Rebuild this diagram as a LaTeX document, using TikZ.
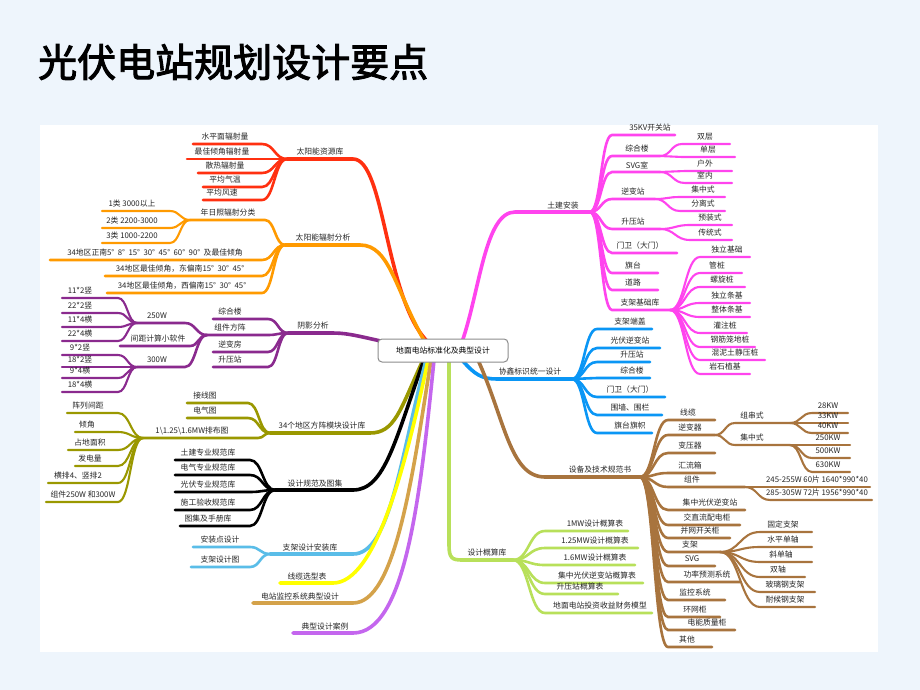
\documentclass[tikz,border=0pt]{standalone}
\usepackage{fontspec}
\setmainfont{Noto Sans CJK SC}
\newfontfamily\titlefont[FakeBold=2.5]{Noto Sans CJK SC}
\usetikzlibrary{calc}
\definecolor{cR}{HTML}{FF3010}
\definecolor{cO}{HTML}{FF9A00}
\definecolor{cP}{HTML}{8A2A8E}
\definecolor{cG}{HTML}{9A9800}
\definecolor{cL}{HTML}{5ABDE8}
\definecolor{cY}{HTML}{FFFF00}
\definecolor{cT}{HTML}{D4A24A}
\definecolor{cV}{HTML}{C466EE}
\definecolor{cM}{HTML}{FF44EE}
\definecolor{cB}{HTML}{0A96F5}
\definecolor{cW}{HTML}{A8743E}
\definecolor{cN}{HTML}{B8E05A}
\definecolor{bg}{HTML}{EEF5FC}
\newcommand\mmi[8]{%
 \coordinate (#1) at (#5,#6);
 \coordinate (#1n) at (#4,#6);
 \draw[#3] let \p1=(#2),\p2=(#1n) in (\p1) .. controls ({0.5*\x1+0.5*\x2},\y1) and ({0.5*\x1+0.5*\x2},\y2) .. (\p2) -- (#1);
 \node[lab] (#1t) at (#7,#6-7) {#8};}
\begin{document}
\begin{tikzpicture}[x=1pt,y=-1pt,line cap=round,
 lab/.style={font=\fontsize{7.8}{8}\selectfont,inner sep=0pt,text=black!85},
 w1/.style={line width=3.6pt}, w2/.style={line width=2.6pt}, w3/.style={line width=2.1pt},
 R/.style={draw=cR,w2},O/.style={draw=cO,w2},P/.style={draw=cP,w2},G/.style={draw=cG,w2},
 K/.style={draw=black,w2},L/.style={draw=cL,w2},M/.style={draw=cM,w2},B/.style={draw=cB,w2},
 W/.style={draw=cW,w2},N/.style={draw=cN,w2}]
\useasboundingbox (0,0) rectangle (920,690);
\fill[bg] (0,0) rectangle (920,690);
\fill[white] (40,125) rectangle (878,652);
\node[anchor=west,font=\titlefont\fontsize{39}{40}\selectfont,inner sep=0pt] (title) at (38,62) {光伏电站规划设计要点};
% ---- main branches ----
\coordinate (red) at (287,159);
\draw[draw=cR,w1] (428,342) .. controls (385,300) and (385,159) .. (353,159) -- (red);
\node[lab] (redt) at (320,152) {太阳能资源库};
\coordinate (orange) at (285,245);
\draw[draw=cO,w1] (425,342) .. controls (395,290) and (390,245) .. (360,245) -- (orange);
\node[lab] (oranget) at (323,238) {太阳能辐射分析};
\coordinate (purple) at (288,333);
\draw[draw=cP,w1] (385,342) .. controls (350,334) and (345,333) .. (330,333) -- (purple);
\node[lab] (purplet) at (313,326) {阴影分析};
\coordinate (olive) at (270,433);
\draw[draw=cG,w1] (423,360) .. controls (400,410) and (395,433) .. (370,433) -- (olive);
\node[lab] (olivet) at (322,426) {34个地区方阵模块设计库};
\coordinate (black) at (275,490);
\draw[draw=black,w1] (424,360) .. controls (395,440) and (385,490) .. (353,490) -- (black);
\node[lab] (blackt) at (315,484) {设计规范及图集};
\coordinate (lblue) at (270,554);
\draw[draw=cL,w1] (426,360) .. controls (400,460) and (390,554) .. (353,554) -- (lblue);
\node[lab] (lbluet) at (310,548) {支架设计安装库};
\coordinate (yel) at (280,583);
\draw[draw=cY,w1] (428,360) .. controls (405,470) and (375,583) .. (333,583) -- (yel);
\node[lab] (yelt) at (307,577) {线缆选型表};
\coordinate (tan) at (253,603);
\draw[draw=cT,w1] (431,360) .. controls (412,480) and (395,603) .. (353,603) -- (tan);
\node[lab] (tant) at (300,597) {电站监控系统典型设计};
\coordinate (vio) at (293,633);
\draw[draw=cV,w1] (434,360) .. controls (420,500) and (405,633) .. (353,633) -- (vio);
\node[lab] (viot) at (325,627) {典型设计案例};
\coordinate (mag) at (590,212);
\draw[draw=cM,w1] (462,342) .. controls (480,290) and (485,212) .. (515,212) -- (mag);
\node[lab] (magt) at (563,206) {土建安装};
\coordinate (xblue) at (572,379);
\draw[draw=cB,w1] (462,360) .. controls (475,375) and (482,379) .. (497,379) -- (xblue);
\node[lab] (xbluet) at (530,372) {协鑫标识统一设计};
\coordinate (brown) at (640,477);
\draw[draw=cW,w1] (478,360) .. controls (505,420) and (510,477) .. (545,477) -- (brown);
\node[lab] (brownt) at (600,470) {设备及技术规范书};
\coordinate (green) at (513,560);
\draw[draw=cN,w1] (449,360) -- (449,545) .. controls (449,558) and (452,560) .. (462,560) -- (green);
\node[lab] (greent) at (487,553) {设计概算库};
% ---- red ----
\mmi{r1}{red}{R}{262}{193}{144}{225}{水平面辐射量}
\mmi{r2}{red}{R}{262}{187}{159}{222}{最佳倾角辐射量}
\mmi{r3}{red}{R}{262}{198}{173}{225}{散热辐射量}
\mmi{r4}{red}{R}{262}{203}{187}{225}{平均气温}
\mmi{r5}{red}{R}{262}{203}{200}{222}{平均风速}
% ---- orange ----
\mmi{o1}{orange}{O}{265}{190}{220}{228}{年日照辐射分类}
\mmi{o11}{o1}{O,w3}{170}{102}{211}{132}{1类 3000以上}
\mmi{o12}{o1}{O,w3}{170}{102}{228}{132}{2类 2200-3000}
\mmi{o13}{o1}{O,w3}{170}{102}{243}{132}{3类 1000-2200}
\mmi{o2}{orange}{O}{262}{50}{260}{155}{34地区正南5°\ \ 8°\ \ 15°\ \ 30°\ \ 45°\ \ 60°\ \ 90°\ \ 及最佳倾角}
\mmi{o3}{orange}{O}{262}{105}{276}{180}{34地区最佳倾角，东偏南15°\ \ 30°\ \ 45°}
\mmi{o4}{orange}{O}{262}{107}{293}{182}{34地区最佳倾角，西偏南15°\ \ 30°\ \ 45°}
% ---- purple ----
\mmi{p1}{purple}{P}{268}{213}{319}{230}{综合楼}
\mmi{p2}{purple}{P}{268}{207}{335}{230}{组件方阵}
\mmi{p3}{purple}{P}{268}{213}{352}{230}{逆变房}
\mmi{p4}{purple}{P}{268}{213}{367}{230}{升压站}
\mmi{p21}{p2}{P}{185}{137}{323}{157}{250W}
\mmi{p22}{p2}{P}{190}{120}{346}{158}{间距计算小软件}
\mmi{p23}{p2}{P}{185}{137}{367}{157}{300W}
\mmi{p211}{p21}{P,w3}{118}{62}{298}{80}{11*2竖}
\mmi{p212}{p21}{P,w3}{118}{62}{313}{80}{22*2竖}
\mmi{p213}{p21}{P,w3}{118}{62}{327}{80}{11*4横}
\mmi{p214}{p21}{P,w3}{118}{62}{341}{80}{22*4横}
\mmi{p231}{p23}{P,w3}{118}{62}{355}{80}{9*2竖}
\mmi{p232}{p23}{P,w3}{118}{62}{367}{80}{18*2竖}
\mmi{p233}{p23}{P,w3}{118}{62}{378}{80}{9*4横}
\mmi{p234}{p23}{P,w3}{118}{62}{392}{80}{18*4横}
% ---- olive ----
\mmi{g1}{olive}{G}{248}{187}{403}{205}{接线图}
\mmi{g2}{olive}{G}{248}{187}{418}{205}{电气图}
\mmi{g3}{olive}{G}{258}{143}{438}{192}{1\textbackslash 1.25\textbackslash 1.6MW排布图}
\mmi{g31}{g3}{G,w3}{118}{67}{413}{88}{阵列间距}
\mmi{g32}{g3}{G,w3}{118}{75}{432}{87}{倾角}
\mmi{g33}{g3}{G,w3}{118}{68}{450}{90}{占地面积}
\mmi{g34}{g3}{G,w3}{118}{75}{466}{90}{发电量}
\mmi{g35}{g3}{G,w3}{118}{48}{483}{78}{横排4、竖排2}
\mmi{g36}{g3}{G,w3}{118}{46}{502}{83}{组件250W 和300W}
% ---- black ----
\mmi{k1}{black}{K}{250}{175}{460}{208}{土建专业规范库}
\mmi{k2}{black}{K}{250}{175}{475}{208}{电气专业规范库}
\mmi{k3}{black}{K}{250}{175}{492}{208}{光伏专业规范库}
\mmi{k4}{black}{K}{250}{175}{510}{208}{施工验收规范库}
\mmi{k5}{black}{K}{250}{180}{526}{208}{图集及手册库}
% ---- light blue ----
\mmi{l1}{lblue}{L}{250}{193}{547}{220}{安装点设计}
\mmi{l2}{lblue}{L}{250}{191}{567}{220}{支架设计图}
% ---- magenta ----
\mmi{m1}{mag}{M}{612}{675}{135}{650}{35KV开关站}
\mmi{m2}{mag}{M}{612}{660}{156}{637}{综合楼}
\mmi{m3}{mag}{M}{612}{660}{172}{637}{SVG室}
\mmi{m4}{mag}{M}{612}{655}{199}{633}{逆变站}
\mmi{m5}{mag}{M}{612}{660}{229}{633}{升压站}
\mmi{m6}{mag}{M}{612}{677}{253}{640}{门卫（大门）}
\mmi{m7}{mag}{M}{612}{658}{273}{633}{旗台}
\mmi{m8}{mag}{M}{612}{658}{290}{633}{道路}
\mmi{m9}{mag}{M}{612}{670}{310}{640}{支架基础库}
\mmi{m21}{m2}{M,w3}{682}{730}{144}{705}{双层}
\mmi{m22}{m2}{M,w3}{682}{735}{157}{708}{单层}
\mmi{m31}{m3}{M,w3}{685}{732}{171}{705}{户外}
\mmi{m32}{m3}{M,w3}{685}{732}{183}{705}{室内}
\mmi{m41}{m4}{M,w3}{680}{725}{197}{703}{集中式}
\mmi{m42}{m4}{M,w3}{680}{725}{211}{703}{分离式}
\mmi{m51}{m5}{M,w3}{690}{732}{225}{710}{预装式}
\mmi{m52}{m5}{M,w3}{690}{732}{240}{710}{传统式}
\mmi{m91}{m9}{M,w3}{700}{750}{257}{727}{独立基础}
\mmi{m92}{m9}{M,w3}{700}{742}{273}{717}{管桩}
\mmi{m93}{m9}{M,w3}{700}{745}{287}{722}{螺旋桩}
\mmi{m94}{m9}{M,w3}{700}{750}{303}{727}{独立条基}
\mmi{m95}{m9}{M,w3}{700}{750}{317}{727}{整体条基}
\mmi{m96}{m9}{M,w3}{700}{747}{333}{725}{灌注桩}
\mmi{m97}{m9}{M,w3}{700}{755}{347}{730}{钢筋笼地桩}
\mmi{m98}{m9}{M,w3}{700}{765}{360}{735}{混泥土静压桩}
\mmi{m99}{m9}{M,w3}{700}{750}{374}{725}{岩石植基}
% ---- blue ----
\mmi{x1}{xblue}{B}{597}{652}{329}{630}{支架端盖}
\mmi{x2}{xblue}{B}{597}{660}{348}{630}{光伏逆变站}
\mmi{x3}{xblue}{B}{597}{650}{362}{632}{升压站}
\mmi{x4}{xblue}{B}{597}{650}{378}{632}{综合楼}
\mmi{x5}{xblue}{B}{597}{665}{397}{630}{门卫（大门）}
\mmi{x6}{xblue}{B}{597}{662}{415}{630}{围墙、围栏}
\mmi{x7}{xblue}{B}{597}{652}{433}{630}{旗台旗帜}
% ---- brown ----
\mmi{b1}{brown}{W}{668}{715}{420}{688}{线缆}
\mmi{b2}{brown}{W}{668}{715}{435}{690}{逆变器}
\mmi{b3}{brown}{W}{668}{715}{453}{690}{变压器}
\mmi{b4}{brown}{W}{668}{715}{473}{690}{汇流箱}
\mmi{b5}{brown}{W}{668}{745}{487}{692}{组件}
\mmi{b6}{brown}{W}{668}{745}{510}{710}{集中光伏逆变站}
\mmi{b7}{brown}{W}{668}{740}{525}{707}{交直流配电柜}
\mmi{b8}{brown}{W}{668}{730}{538}{700}{并网开关柜}
\mmi{b9}{brown}{W}{668}{720}{552}{690}{支架}
\mmi{b10}{brown}{W}{668}{715}{566}{692}{SVG}
\mmi{b11}{brown}{W}{668}{740}{582}{707}{功率预测系统}
\mmi{b12}{brown}{W}{668}{725}{600}{695}{监控系统}
\mmi{b13}{brown}{W}{668}{720}{617}{695}{环网柜}
\mmi{b14}{brown}{W}{668}{735}{630}{707}{电能质量柜}
\mmi{b15}{brown}{W}{668}{712}{647}{687}{其他}
\mmi{b21}{b2}{W,w3}{735}{790}{423}{752}{组串式}
\mmi{b22}{b2}{W,w3}{735}{790}{445}{752}{集中式}
\mmi{b211}{b21}{W,w3}{812}{848}{413}{828}{28KW}
\mmi{b212}{b21}{W,w3}{812}{848}{423}{828}{33KW}
\mmi{b213}{b21}{W,w3}{812}{848}{433}{828}{40KW}
\mmi{b221}{b22}{W,w3}{812}{850}{445}{828}{250KW}
\mmi{b222}{b22}{W,w3}{812}{850}{458}{828}{500KW}
\mmi{b223}{b22}{W,w3}{812}{850}{472}{828}{630KW}
\mmi{b51}{b5}{W,w3}{770}{870}{487}{817}{245-255W 60片 1640*990*40}
\mmi{b52}{b5}{W,w3}{770}{872}{500}{817}{285-305W 72片 1956*990*40}
\mmi{b91}{b9}{W,w3}{760}{812}{532}{783}{固定支架}
\mmi{b92}{b9}{W,w3}{760}{812}{547}{783}{水平单轴}
\mmi{b93}{b9}{W,w3}{760}{812}{562}{781}{斜单轴}
\mmi{b94}{b9}{W,w3}{760}{805}{577}{778}{双轴}
\mmi{b95}{b9}{W,w3}{760}{815}{592}{785}{玻璃钢支架}
\mmi{b96}{b9}{W,w3}{760}{815}{607}{785}{耐候钢支架}
% ---- green ----
\mmi{n1}{green}{N}{545}{628}{531}{595}{1MW设计概算表}
\mmi{n2}{green}{N}{545}{638}{548}{595}{1.25MW设计概算表}
\mmi{n3}{green}{N}{545}{635}{565}{595}{1.6MW设计概算表}
\mmi{n4}{green}{N}{545}{643}{583}{597}{集中光伏逆变站概算表}
\mmi{n5}{green}{N}{545}{618}{594}{580}{升压站概算表}
\mmi{n6}{green}{N}{545}{652}{613}{600}{地面电站投资收益财务模型}
% ---- center ----
\node[draw=black!45,line width=1pt,fill=white,rounded corners=4pt,minimum width=130,minimum height=23,font=\fontsize{7.8}{8}\selectfont] (center) at (443,350.5) {地面电站标准化及典型设计};
\end{tikzpicture}
\end{document}
